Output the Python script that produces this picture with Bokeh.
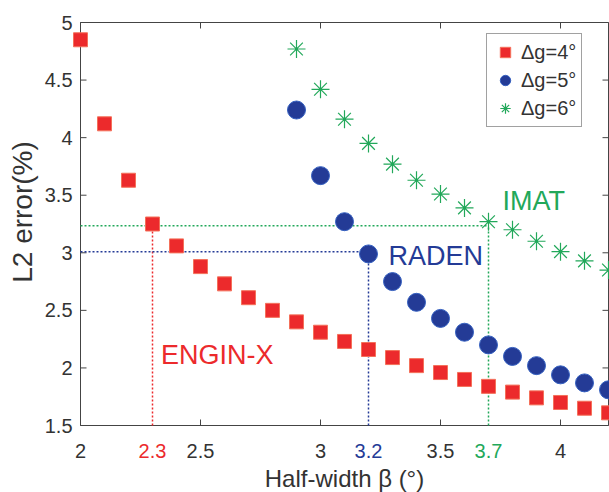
import math
from bokeh.plotting import figure
from bokeh.models import Legend, LegendItem, Label, Range1d
from bokeh.core.properties import value
from bokeh.embed import file_html
from bokeh.resources import INLINE

# ---- data ----
beta_4 = [2.0, 2.1, 2.2, 2.3, 2.4, 2.5, 2.6, 2.7, 2.8, 2.9, 3.0, 3.1, 3.2, 3.3, 3.4, 3.5, 3.6, 3.7, 3.8, 3.9, 4.0, 4.1, 4.2]
err_4 = [4.85, 4.12, 3.63, 3.25, 3.06, 2.88, 2.73, 2.61, 2.50, 2.40, 2.31, 2.23, 2.16, 2.09, 2.02, 1.96, 1.90, 1.84, 1.79, 1.74, 1.70, 1.65, 1.61]
beta_5 = [2.9, 3.0, 3.1, 3.2, 3.3, 3.4, 3.5, 3.6, 3.7, 3.8, 3.9, 4.0, 4.1, 4.2]
err_5 = [4.24, 3.67, 3.27, 2.99, 2.75, 2.57, 2.43, 2.31, 2.20, 2.10, 2.02, 1.94, 1.87, 1.81]
beta_6 = [2.9, 3.0, 3.1, 3.2, 3.3, 3.4, 3.5, 3.6, 3.7, 3.8, 3.9, 4.0, 4.1, 4.2]
err_6 = [4.77, 4.42, 4.16, 3.95, 3.77, 3.63, 3.51, 3.39, 3.27, 3.20, 3.10, 3.01, 2.93, 2.85]
series_labels = ["\u0394g=4\u00b0", "\u0394g=5\u00b0", "\u0394g=6\u00b0"]

instruments = ["ENGIN-X", "RADEN", "IMAT"]
inst_beta = [2.3, 3.2, 3.7]
inst_err = [3.235, 3.01, 3.235]
inst_beta_labels = ["2.3", "3.2", "3.7"]

x_ticks = [2, 2.5, 3, 3.5, 4]
x_tick_labels = ["2", "2.5", "3", "3.5", "4"]
y_ticks = [1.5, 2, 2.5, 3, 3.5, 4, 4.5, 5]
y_tick_labels = ["1.5", "2", "2.5", "3", "3.5", "4", "4.5", "5"]
x_title = "Half-width \u03b2 (\u00b0)"
y_title = "L2 error(%)"
X_MIN, X_MAX = 2.0, 4.2
Y_MIN, Y_MAX = 1.5, 5.0

# ---- style ----
RED = "#ec2a2c"
BLUE = "#243b96"
GREEN = "#22a85a"
inst_colors = [RED, BLUE, GREEN]
AX = "#444444"
TXT = "#333333"
FONT = "Liberation Sans"

W, H = 609, 492
BL, BR, BT, BB = 80, 1, 22, 67          # plot-box margins in px
TICK = 6
ppx = (W - BL - BR) / (X_MAX - X_MIN)   # px per x unit
ppy = (H - BT - BB) / (Y_MAX - Y_MIN)   # px per y unit

p = figure(width=W, height=H,
           x_range=Range1d(X_MIN - BL / ppx, X_MAX + BR / ppx),
           y_range=Range1d(Y_MIN - BB / ppy, Y_MAX + BT / ppy),
           output_backend="svg", toolbar_location=None, x_axis_type=None, y_axis_type=None,
           min_border=0, min_border_left=0, min_border_right=0, min_border_top=0, min_border_bottom=0)
p.outline_line_color = None
p.xgrid.visible = False
p.ygrid.visible = False
p.background_fill_color = "white"
p.border_fill_color = "white"

# plot box
p.quad(left=[X_MIN], right=[X_MAX], bottom=[Y_MIN], top=[Y_MAX], fill_color=None, line_color=AX, line_width=1)

# inward ticks on all four sides
p.segment(x0=x_ticks, y0=[Y_MIN] * len(x_ticks), x1=x_ticks, y1=[Y_MIN + TICK / ppy] * len(x_ticks), line_color=AX)
p.segment(x0=x_ticks, y0=[Y_MAX] * len(x_ticks), x1=x_ticks, y1=[Y_MAX - TICK / ppy] * len(x_ticks), line_color=AX)
p.segment(x0=[X_MIN] * len(y_ticks), y0=y_ticks, x1=[X_MIN + TICK / ppx] * len(y_ticks), y1=y_ticks, line_color=AX)
p.segment(x0=[X_MAX] * len(y_ticks), y0=y_ticks, x1=[X_MAX - TICK / ppx] * len(y_ticks), y1=y_ticks, line_color=AX)

# guide lines for instruments (draw IMAT last)
for i in [0, 1, 2]:
    b, e, c = inst_beta[i], inst_err[i], inst_colors[i]
    if i != 0:
        p.line([X_MIN, b], [e, e], line_color=c, line_dash="2 2", line_width=1.5)
    p.line([b, b], [Y_MIN, e], line_color=c, line_dash="2 2", line_width=1.5)

# data
r4 = p.scatter(beta_4, err_4, marker="square", size=14, fill_color=RED, line_color="#f4705a", line_width=1)
r5 = p.scatter(beta_5, err_5, marker="circle", size=18, fill_color=BLUE, line_color="#3560c0", line_width=1)
r6 = p.scatter(beta_6, err_6, marker="asterisk", size=18, line_color=GREEN, line_width=1.2)
p.scatter(beta_6, err_6, marker="circle", size=2.5, fill_color=GREEN, line_color=None)

# tick labels (x labels of the instrument half-widths in their colours)
tick_x = x_ticks + inst_beta
tick_text = x_tick_labels + inst_beta_labels
tick_col = [TXT] * len(x_ticks) + inst_colors
p.text(x=tick_x, y=[Y_MIN - 25 / ppy] * len(tick_x), text=tick_text, text_color=tick_col,
       text_font=value(FONT), text_font_size="20px", text_align="center", text_baseline="middle")
p.text(x=[X_MIN - 8 / ppx] * len(y_ticks), y=y_ticks, text=y_tick_labels, text_color=TXT,
       text_font=value(FONT), text_font_size="20px", text_align="right", text_baseline="middle")

# axis titles
p.text(x=[(X_MIN + X_MAX) / 2], y=[Y_MIN - 53 / ppy], text=[x_title], text_color=TXT,
       text_font=value(FONT), text_font_size="24px", text_align="center", text_baseline="middle")
p.text(x=[X_MIN - 58 / ppx], y=[(Y_MIN + Y_MAX) / 2 + 12 / ppy], text=[y_title], text_color=TXT, angle=math.pi / 2,
       text_font=value(FONT), text_font_size="28px", text_align="center", text_baseline="middle")

# legend (box: left 486 px, bottom 127 px from the top)
legend = Legend(items=[LegendItem(label=series_labels[0], renderers=[r4]),
                       LegendItem(label=series_labels[1], renderers=[r5]),
                       LegendItem(label=series_labels[2], renderers=[r6])],
                location=(486, H - 127), padding=5, spacing=2,
                label_text_font=FONT, label_text_font_size="20px", label_text_color=TXT,
                glyph_width=26, glyph_height=26, label_height=24, label_standoff=3,
                border_line_color=AX, border_line_width=1, background_fill_alpha=1)
p.add_layout(legend)

# instrument names (anchored at the middle of their capitals)
name_pos_x = [2.335, 3.283, 3.758]
name_pos_y = [2.108, 2.976, 3.454]
for i in range(3):
    p.add_layout(Label(x=name_pos_x[i], y=name_pos_y[i], text=instruments[i], text_color=inst_colors[i],
                       text_font=FONT, text_font_size="27px", text_baseline="middle", text_align="left"))

open("out.html", "w").write(file_html(p, INLINE))
